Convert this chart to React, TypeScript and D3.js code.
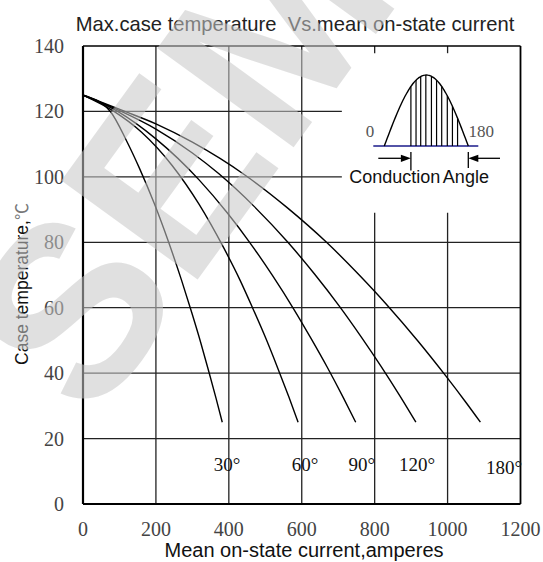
import React from "react";
import * as d3 from "d3";

const xTicks = [0, 200, 400, 600, 800, 1000, 1200];
const yTicks = [0, 20, 40, 60, 80, 100, 120, 140];

const angleLabels = ["30°", "60°", "90°", "120°", "180°"];
const labelCurrent = [395, 609, 765, 916, 1155];
const labelTemp = [10.2, 10.2, 10.2, 10.2, 9.2];

const current30 = [0, 75, 120, 155, 195, 235, 270, 298, 323, 345, 365, 382];
const temp30 = [125, 120, 110.9, 102.6, 92, 80, 68.5, 58.6, 49.3, 40.5, 32.3, 25];
const current60 = [0, 85, 160, 245, 319, 385, 430, 465, 502, 535, 565, 590];
const temp60 = [125, 120, 113.7, 103.4, 91.5, 78.5, 68.6, 60, 50.5, 41.3, 32.6, 25];
const current90 = [0, 95, 200, 319, 395, 457, 520, 578, 625, 670, 715, 748];
const temp90 = [125, 120, 111.6, 99, 89.1, 80, 69.8, 59.6, 50.7, 41.8, 32.3, 25];
const current120 = [0, 105, 200, 300, 372, 470, 562, 635, 703, 763, 818, 870, 913];
const temp120 = [125, 120, 114.6, 107.3, 101, 90.9, 80, 70.3, 60.5, 51.1, 42, 32.9, 25];
const current180 = [0, 115, 200, 300, 445, 560, 668, 755, 835, 918, 994, 1050, 1090];
const temp180 = [125, 120, 116.2, 110.6, 100.5, 90.6, 80, 70.3, 60.7, 49.9, 39.3, 31.1, 25];

const seriesCurrents = [current30, current60, current90, current120, current180];
const seriesTemps = [temp30, temp60, temp90, temp120, temp180];

// inset illustration (conduction angle)
const hatchAngles = [57, 68, 78, 89, 101, 112, 123, 135, 146, 157];
const conductionStart = 57;

const W = 543;
const H = 562;

export default function App() {
  const x = d3.scaleLinear().domain([0, 1200]).range([83, 520.5]);
  const y = d3.scaleLinear().domain([0, 140]).range([504, 46]);

  const line = d3
    .line<[number, number]>()
    .x((d) => x(d[0]))
    .y((d) => y(d[1]))
    .curve(d3.curveMonotoneX);

  // inset scales
  const ax = d3.scaleLinear().domain([0, 180]).range([384.3, 468.3]);
  const ay = d3.scaleLinear().domain([0, 1]).range([146, 75]);
  const humpPts: [number, number][] = d3
    .range(0, 181, 3)
    .map((a) => [a, Math.sin((a * Math.PI) / 180)]);
  const hump = d3
    .line<[number, number]>()
    .x((d) => ax(d[0]))
    .y((d) => ay(d[1]))
    .curve(d3.curveCatmullRom)(humpPts);

  const gridColor = "#222";
  const serif = "'Liberation Serif', 'Times New Roman', serif";
  const sans = "'Liberation Sans', Arial, sans-serif";

  const arrowY = 158.3;
  const leftBarX = ax(conductionStart);
  const rightBarX = ax(180);

  return (
    <svg
      width={W}
      height={H}
      viewBox={`0 0 ${W} ${H}`}
      style={{ position: "absolute", left: 0, top: 0, background: "#fff" }}
    >
      <rect x={0} y={0} width={W} height={H} fill="#fff" />

      {/* vertical gridlines */}
      {[200, 400, 600].map((v) => (
        <line key={"v" + v} x1={x(v)} x2={x(v)} y1={y(140)} y2={y(0)} stroke={gridColor} strokeWidth={1.3} />
      ))}
      {[800, 1000].map((v) => (
        <g key={"vs" + v}>
          <line x1={x(v)} x2={x(v)} y1={y(140)} y2={y(137.8)} stroke={gridColor} strokeWidth={1.3} />
          <line x1={x(v)} x2={x(v)} y1={y(89)} y2={y(0)} stroke={gridColor} strokeWidth={1.3} />
        </g>
      ))}
      {/* horizontal gridlines */}
      {[20, 40, 60, 80].map((t) => (
        <line key={"h" + t} x1={x(0)} x2={x(1200)} y1={y(t)} y2={y(t)} stroke={gridColor} strokeWidth={1.3} />
      ))}
      {[100, 120].map((t) => (
        <line key={"hs" + t} x1={x(0)} x2={x(710)} y1={y(t)} y2={y(t)} stroke={gridColor} strokeWidth={1.3} />
      ))}

      {/* border */}
      <line x1={x(0)} x2={x(1200)} y1={y(140)} y2={y(140)} stroke="#000" strokeWidth={1.6} />
      <line x1={x(1200)} x2={x(1200)} y1={y(140)} y2={y(0)} stroke="#000" strokeWidth={1.8} />
      <line x1={x(0)} x2={x(1200)} y1={y(0)} y2={y(0)} stroke="#000" strokeWidth={2.2} />
      <line x1={x(0)} x2={x(0)} y1={y(140)} y2={y(0)} stroke="#000" strokeWidth={2.2} />

      {/* curves */}
      {seriesCurrents.map((cs, i) => {
        const pts: [number, number][] = cs.map((c, j) => [c, seriesTemps[i][j]]);
        return <path key={"c" + i} d={line(pts) || ""} fill="none" stroke="#000" strokeWidth={1.4} />;
      })}

      {/* curve labels */}
      {angleLabels.map((lab, i) => (
        <text
          key={"l" + i}
          x={x(labelCurrent[i])}
          y={y(labelTemp[i])}
          textAnchor="middle"
          fontFamily={serif}
          fontSize={19}
          fill="#111"
        >
          {lab}
        </text>
      ))}

      {/* tick labels */}
      {xTicks.map((v) => (
        <text key={"xt" + v} x={x(v)} y={536} textAnchor="middle" fontFamily={serif} fontSize={20} fill="#444">
          {v}
        </text>
      ))}
      {yTicks.map((t) => (
        <text key={"yt" + t} x={64} y={y(t) + 7} textAnchor="end" fontFamily={serif} fontSize={20} fill="#444">
          {t}
        </text>
      ))}

      {/* titles */}
      <text
        x={295}
        y={31}
        textAnchor="middle"
        fontFamily={sans}
        fontSize={20.2}
        fill="#222"
        style={{ whiteSpace: "pre" }}
      >
        {"Max.case temperature  Vs.mean on-state current"}
      </text>
      <text x={304} y={557} textAnchor="middle" fontFamily={sans} fontSize={20} fill="#111">
        Mean on-state current,amperes
      </text>
      <text
        transform={`translate(27.5,284) rotate(-90)`}
        textAnchor="middle"
        fontFamily={sans}
        fontSize={17.5}
        fill="#111"
      >
        Case temperature,
        <tspan fontFamily="'Noto Sans CJK SC', 'DejaVu Sans', sans-serif" fontSize={17} fill="#777">
          ℃
        </tspan>
      </text>

      {/* inset */}
      <line x1={373.3} x2={478.3} y1={ay(0)} y2={ay(0)} stroke="#1a1a8a" strokeWidth={1.6} />
      <path d={hump || ""} fill="none" stroke="#000" strokeWidth={1.4} />
      {hatchAngles.map((a) => (
        <line
          key={"ha" + a}
          x1={ax(a)}
          x2={ax(a)}
          y1={ay(0)}
          y2={ay(Math.sin((a * Math.PI) / 180))}
          stroke="#000"
          strokeWidth={1.2}
        />
      ))}
      <text x={370} y={137} textAnchor="middle" fontFamily={serif} fontSize={17} fill="#555">
        0
      </text>
      <text x={468.5} y={137} textAnchor="start" fontFamily={serif} fontSize={17} fill="#555">
        180
      </text>
      {/* arrows */}
      <line x1={378.3} x2={leftBarX - 8} y1={arrowY} y2={arrowY} stroke="#000" strokeWidth={1.3} />
      <path
        d={`M${leftBarX},${arrowY} L${leftBarX - 10},${arrowY - 3.6} L${leftBarX - 10},${arrowY + 3.6} Z`}
        fill="#000"
      />
      <line x1={leftBarX} x2={leftBarX} y1={152} y2={170.5} stroke="#000" strokeWidth={1.3} />
      <line x1={500} x2={rightBarX + 8} y1={arrowY} y2={arrowY} stroke="#000" strokeWidth={1.3} />
      <path
        d={`M${rightBarX},${arrowY} L${rightBarX + 10},${arrowY - 3.6} L${rightBarX + 10},${arrowY + 3.6} Z`}
        fill="#000"
      />
      <line x1={rightBarX} x2={rightBarX} y1={152} y2={168} stroke="#000" strokeWidth={1.3} />
      <text x={349.3} y={183.3} fontFamily={sans} fontSize={18} fill="#111" wordSpacing={-1.5}>
        Conduction Angle
      </text>

      {/* watermark */}
      <text
        transform="translate(92,425) rotate(-54)"
        fontFamily={sans}
        fontWeight="bold"
        fontSize={245}
        fill="#c8c8c8"
        opacity={0.55}
      >
        SEMI
      </text>
    </svg>
  );
}
